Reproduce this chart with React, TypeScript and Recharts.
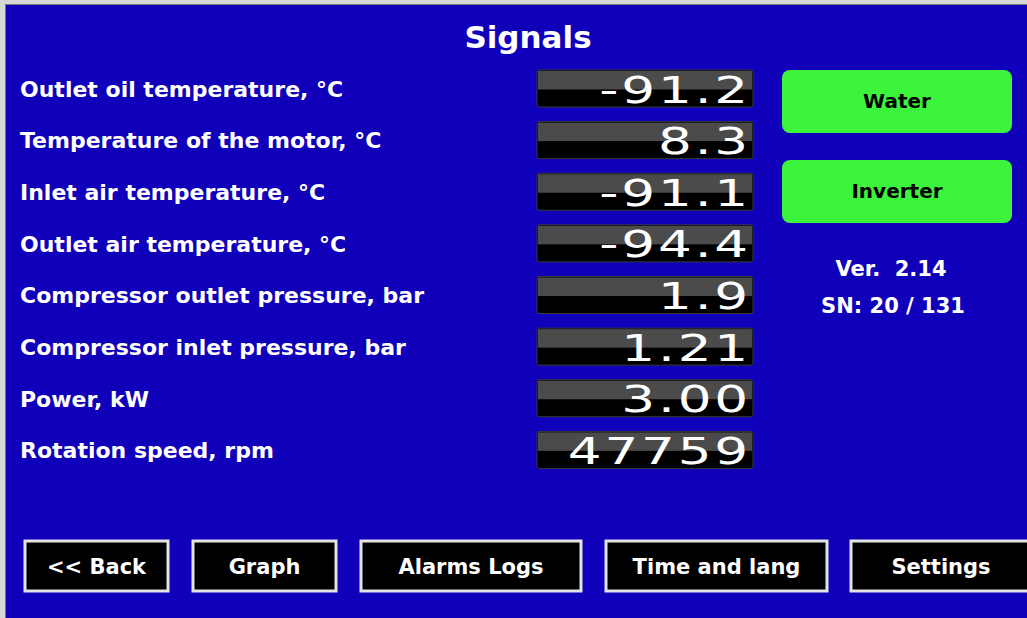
import { BarChart, Bar, XAxis, YAxis } from 'recharts';

const signalNames = [
    'Outlet oil temperature, °C',
    'Temperature of the motor, °C',
    'Inlet air temperature, °C',
    'Outlet air temperature, °C',
    'Compressor outlet pressure, bar',
    'Compressor inlet pressure, bar',
    'Power, kW',
    'Rotation speed, rpm',
];
const signalValues = [-91.2, 8.3, -91.1, -94.4, 1.9, 1.21, 3.0, 47759];
const signalDecimals = [1, 1, 1, 1, 1, 2, 2, 0];

const statusButtons = ['Water', 'Inverter'];
const navButtons = ['<< Back', 'Graph', 'Alarms Logs', 'Time and lang', 'Settings'];
const versionText = 'Ver.  2.14';
const serialText = 'SN: 20 / 131';

const BLUE = '#1100b9';
const GREEN = '#3cf43c';
const FONT = '"DejaVu Sans", Verdana, sans-serif';

// x / width of the bottom buttons
const navLayout = [[25, 143], [193, 143], [361, 220], [606, 221], [851, 180]];

const rows = signalNames.map((name, i) => ({
    name,
    value: signalValues[i],
    text: signalValues[i].toFixed(signalDecimals[i]),
}));

const SignalLabel = ({ y, payload }: any) => (
    <text x={20} y={y + 8} fill="#fff" fontFamily={FONT} fontWeight="bold" fontSize={22}>
        {payload.value}
    </text>
);

const Readout = (props: any) => {
    const bg = props.background;
    if (!bg) return null;
    const { x, y, width, height } = bg;
    return (
        <g>
            <rect x={x} y={y} width={width} height={height} rx={2} fill="#000" stroke="#3a3a3a" />
            <rect x={x + 1} y={y + 1} width={width - 2} height={height / 2} fill="#4b4b4b" />
            <text
                transform={`translate(${x + width - 2},${y + height / 2 + 14}) scale(1.4,1)`}
                textAnchor="end"
                fill="#fff"
                fontFamily={FONT}
                fontSize={38}
                letterSpacing={2}
            >
                {props.payload.text}
            </text>
        </g>
    );
};

export default function App() {
    return (
        <div style={{ position: 'fixed', left: 0, top: 0, width: 1027, height: 618, background: '#d6d6d6', overflow: 'hidden' }}>
            <div style={{ position: 'absolute', left: 5, top: 4, right: 0, bottom: 0, background: BLUE, borderLeft: '1px solid #777', borderTop: '1px solid #777' }} />
            <div style={{ position: 'absolute', left: 0, top: 0 }}>
                <BarChart
                    width={1027}
                    height={618}
                    layout="vertical"
                    data={rows}
                    margin={{ top: 63, bottom: 142, left: 0, right: 274 }}
                >
                    <XAxis type="number" hide domain={[-100, 50000]} />
                    <YAxis
                        type="category"
                        dataKey="name"
                        width={537}
                        axisLine={false}
                        tickLine={false}
                        tick={SignalLabel}
                    />
                    <Bar dataKey="value" barSize={37} isAnimationActive={false} shape={Readout} />
                </BarChart>
            </div>
            <svg width={1027} height={618} style={{ position: 'absolute', left: 0, top: 0, pointerEvents: 'none' }}>
                <text x={528} y={48} textAnchor="middle" fill="#fff" fontFamily={FONT} fontWeight="bold" fontSize={31}>
                    Signals
                </text>
                {statusButtons.map((label, i) => (
                    <g key={label}>
                        <rect x={782} y={70 + i * 90} width={230} height={63} rx={8} fill={GREEN} />
                        <text x={897} y={108 + i * 90} textAnchor="middle" fill="#000" fontFamily={FONT} fontWeight="bold" fontSize={20}>
                            {label}
                        </text>
                    </g>
                ))}
                <text x={891} y={276} textAnchor="middle" fill="#fff" fontFamily={FONT} fontWeight="bold" fontSize={21} style={{ whiteSpace: 'pre' }}>
                    {versionText}
                </text>
                <text x={893} y={313} textAnchor="middle" fill="#fff" fontFamily={FONT} fontWeight="bold" fontSize={21}>
                    {serialText}
                </text>
                {navButtons.map((label, i) => {
                    const [bx, bw] = navLayout[i];
                    return (
                        <g key={label}>
                            <rect x={bx} y={541} width={bw} height={50} fill="#000" stroke="#e4e4e4" strokeWidth={3} />
                            <text x={bx + bw / 2} y={574} textAnchor="middle" fill="#fff" fontFamily={FONT} fontWeight="bold" fontSize={21}>
                                {label}
                            </text>
                        </g>
                    );
                })}
            </svg>
        </div>
    );
}
